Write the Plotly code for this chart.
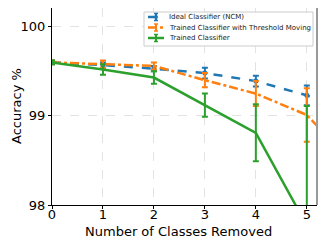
import plotly.graph_objects as go

x_vals = [0, 1, 2, 3, 4, 5, 6]
ncm_acc = [99.60, 99.57, 99.53, 99.48, 99.39, 99.23, 98.97]
ncm_err = [0.02, 0.03, 0.03, 0.06, 0.06, 0.11, 0.10]
thr_acc = [99.60, 99.58, 99.56, 99.40, 99.25, 99.01, 98.40]
thr_err = [0.02, 0.04, 0.04, 0.08, 0.14, 0.30, 0.30]
trn_acc = [99.60, 99.52, 99.43, 99.12, 98.81, 97.77, 96.60]
trn_err = [0.02, 0.06, 0.07, 0.13, 0.32, 1.34, 1.50]
names = ["Ideal Classifier (NCM)", "Trained Classifier with Threshold Moving", "Trained Classifier"]
x_ticks = [0, 1, 2, 3, 4, 5]
y_ticks = [98, 99, 100]
x_title = "Number of Classes Removed"
y_title = "Accuracy %"

blue, orange, green = "#1f77b4", "#ff7f0e", "#2ca02c"
colors = [blue, orange, green]
dashes = ["dash", "dashdot", "solid"]
FONT = "DejaVu Sans"

fig = go.Figure()
fig.add_trace(go.Scatter(
    x=x_vals, y=ncm_acc, name=names[0], mode="lines+markers",
    line=dict(color=blue, width=2.5, dash="dash"),
    marker=dict(size=5, color=blue),
    error_y=dict(type="data", array=ncm_err, color=blue, thickness=2, width=3),
))
fig.add_trace(go.Scatter(
    x=x_vals, y=thr_acc, name=names[1], mode="lines",
    line=dict(color=orange, width=2.5, dash="dashdot"),
    error_y=dict(type="data", array=thr_err, color=orange, thickness=2, width=3),
))
fig.add_trace(go.Scatter(
    x=x_vals, y=trn_acc, name=names[2], mode="lines",
    line=dict(color=green, width=2.5),
    error_y=dict(type="data", array=trn_err, color=green, thickness=2, width=3),
))

# right gray frame edge
fig.add_shape(type="line", xref="paper", yref="paper", x0=1, x1=1, y0=0, y1=1,
              line=dict(color="#999999", width=2))

# manual legend (plot area: 265 px wide, 197 px tall; page offset 52, 8)
W, H = 265.0, 197.0
def px(v):
    return v / W
def py(v):
    return v / H
box_x0, box_x1 = px(92), px(261)
box_y1, box_y0 = 1 - py(12 - 8), 1 - py(46 - 8)
fig.add_shape(type="rect", xref="paper", yref="paper", x0=box_x0, x1=box_x1, y0=box_y0, y1=box_y1,
              line=dict(color="#cccccc", width=1), fillcolor="rgba(255,255,255,0.9)", layer="above")
rows = [17, 27.5, 38]
for i, (nm, c, d, r) in enumerate(zip(names, colors, dashes, rows)):
    yc = 1 - py(r - 8)
    fig.add_shape(type="line", xref="paper", yref="paper", x0=px(96), x1=px(112), y0=yc, y1=yc,
                  line=dict(color=c, width=2.5, dash=d), layer="above")
    fig.add_shape(type="line", xref="paper", yref="paper", x0=px(104), x1=px(104), y0=yc - py(3.5), y1=yc + py(3.5),
                  line=dict(color=c, width=2), layer="above")
    for dy in (-3.5, 3.5):
        fig.add_shape(type="line", xref="paper", yref="paper", x0=px(102), x1=px(106), y0=yc + py(dy), y1=yc + py(dy),
                      line=dict(color=c, width=1.5), layer="above")
    if i == 0:
        fig.add_shape(type="circle", xref="paper", yref="paper", x0=px(102), x1=px(106), y0=yc - py(2), y1=yc + py(2),
                      line=dict(color=c, width=0), fillcolor=c, layer="above")
    fig.add_annotation(xref="paper", yref="paper", x=px(115), y=yc, text=nm, showarrow=False,
                       xanchor="left", yanchor="middle", font=dict(size=7, family=FONT, color="#222222"))

# axis titles as annotations for exact placement
fig.add_annotation(xref="paper", yref="paper", x=0.5 + px(-6), y=-py(231 - 205), text=x_title,
                   showarrow=False, xanchor="center", yanchor="middle",
                   font=dict(size=13, family=FONT, color="black"))
fig.add_annotation(xref="paper", yref="paper", x=px(16.5 - 52), y=0.5, text=y_title, textangle=-90,
                   showarrow=False, xanchor="center", yanchor="middle",
                   font=dict(size=13, family=FONT, color="black"))

# page has an 8px body margin; figure is 319x237 so it fills the 327x245 window
fig.update_layout(
    width=319, height=237,
    margin=dict(l=44, r=10, t=0, b=40, pad=0),
    paper_bgcolor="white", plot_bgcolor="white",
    font=dict(family=FONT, color="black", size=13),
    showlegend=False,
    xaxis=dict(
        range=[0, 5.2], tickvals=x_ticks, ticktext=[str(v) for v in x_ticks],
        showline=True, linecolor="black", linewidth=1.2,
        ticks="outside", ticklen=3, tickcolor="black",
        ticklabelstandoff=-6,
        showgrid=True, gridcolor="#e3e3e3", griddash="dash", gridwidth=1,
        zeroline=False, tickfont=dict(size=13), automargin=False,
    ),
    yaxis=dict(
        range=[98, 100.21], tickvals=y_ticks, ticktext=[str(v) for v in y_ticks],
        showline=True, linecolor="black", linewidth=1.2,
        ticks="outside", ticklen=3, tickcolor="black",
        showgrid=True, gridcolor="#e3e3e3", griddash="dash", gridwidth=1,
        zeroline=False, tickfont=dict(size=13), automargin=False,
    ),
)

fig.write_html("out.html")
